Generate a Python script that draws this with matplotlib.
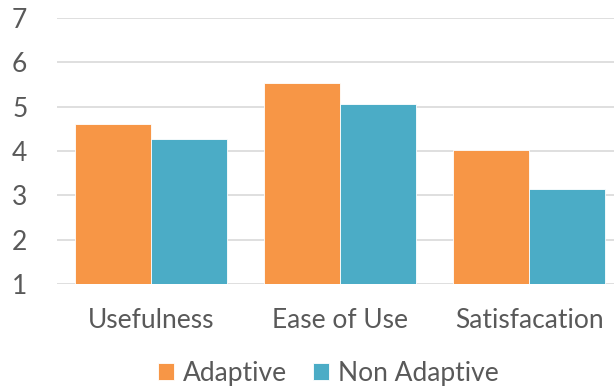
import matplotlib
matplotlib.use("Agg")
import matplotlib.pyplot as plt
import numpy as np

categories = ["Usefulness", "Ease of Use", "Satisfacation"]
adaptive = [4.62, 5.53, 4.02]
non_adaptive = [4.27, 5.06, 3.14]
series_names = ["Adaptive", "Non Adaptive"]
yticks = [1, 2, 3, 4, 5, 6, 7]

plt.rcParams['font.family'] = ['Lato', 'DejaVu Sans']

fig = plt.figure(figsize=(6.14, 3.9), dpi=100)
ax = fig.add_axes([56.5/614, 1-284/390, 567/614, (284-18)/390])

x = np.arange(len(categories))
w = 0.4
ax.bar(x - w/2, np.array(adaptive) - 1, w, bottom=1, color="#F79646",
       edgecolor="white", linewidth=0.6, label=series_names[0], zorder=3)
ax.bar(x + w/2, np.array(non_adaptive) - 1, w, bottom=1, color="#4BACC6",
       edgecolor="white", linewidth=0.6, label=series_names[1], zorder=3)

ax.set_ylim(1, 7)
ax.set_xlim(-0.5, 2.5)
ax.set_yticks(yticks)
ax.set_xticks(x)
ax.set_xticklabels(categories)
ax.grid(axis="y", color="#D9D9D9", linewidth=1.2, zorder=0)
for s in ax.spines.values():
    s.set_visible(False)
ax.tick_params(axis="both", length=0, labelsize=19, labelcolor="#595959")
ax.tick_params(axis="y", pad=21)
ax.tick_params(axis="x", pad=17)

leg = fig.legend(loc="center", bbox_to_anchor=(0.535, 1-373/390), ncol=2,
                 frameon=False, fontsize=19, handlelength=0.6, handleheight=0.6,
                 handletextpad=0.35, columnspacing=1.0)
for t in leg.get_texts():
    t.set_color("#595959")

fig.savefig("out.png", dpi=100)
